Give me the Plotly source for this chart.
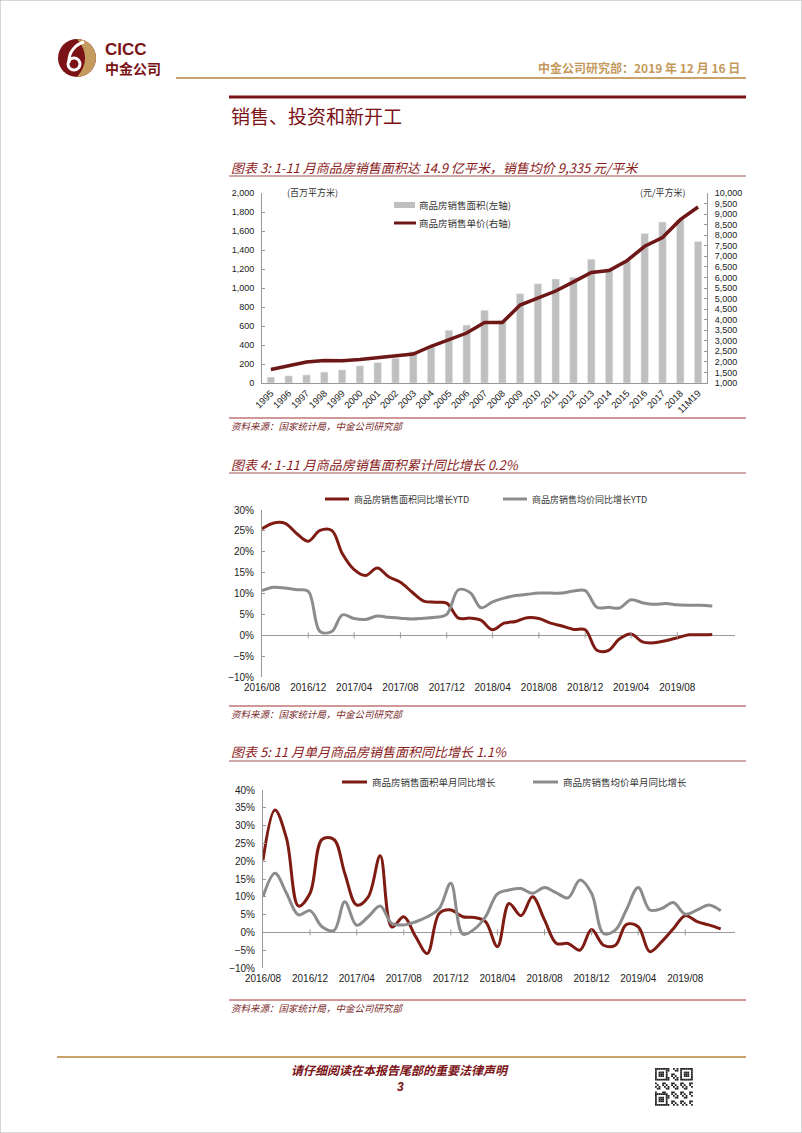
import pandas as pd
import plotly.graph_objects as go

W, H = 802, 1133

# ---- chart 3 data: annual sales area & average price
years = ["1995", "1996", "1997", "1998", "1999", "2000", "2001", "2002", "2003", "2004",
         "2005", "2006", "2007", "2008", "2009", "2010", "2011", "2012", "2013", "2014",
         "2015", "2016", "2017", "2018", "11M19"]
sales_area = [62, 75, 85, 115, 138, 180, 215, 260, 330, 375,
              555, 610, 765, 660, 940, 1045, 1095, 1112, 1303, 1206,
              1285, 1573, 1694, 1717, 1490]
avg_price = [1640, 1806, 1997, 2063, 2053, 2112, 2190, 2260, 2370, 2740,
             3050, 3367, 3864, 3860, 4690, 5032, 5357, 5791, 6237, 6324,
             6793, 7476, 7892, 8737, 9335]

# ---- chart 4 / 5 data: monthly, 2016/08 - 2019/11
months = pd.date_range("2016-08-01", "2019-11-01", freq="MS")
ytd_area_yoy = [25.5, 26.9, 26.8, 24.3, 22.5, 25.1, 25.1, 19.5, 15.7, 14.3,
                16.1, 14.0, 12.7, 10.3, 8.2, 7.9, 7.7, 4.1, 4.1, 3.6,
                1.3, 2.9, 3.3, 4.2, 4.0, 2.9, 2.2, 1.4, 1.3, -3.6,
                -3.6, -0.9, 0.3, -1.6, -1.8, -1.3, -0.6, 0.1, 0.1, 0.2]
ytd_price_yoy = [10.7, 11.5, 11.3, 10.9, 10.5, 0.9, 0.9, 4.9, 4.0, 3.8,
                 4.6, 4.3, 4.1, 3.9, 4.1, 4.3, 5.0, 10.9, 10.2, 6.6,
                 8.0, 8.9, 9.5, 9.8, 10.1, 10.1, 10.1, 10.6, 10.7, 6.7,
                 6.7, 6.5, 8.5, 7.8, 7.4, 7.6, 7.3, 7.2, 7.2, 7.0]
mon_area_yoy = [20.3, 34.4, 26.4, 7.4, 11.0, 26.1, 26.1, 16.6, 7.7, 10.0,
                21.5, 1.5, 4.4, -1.2, -5.9, 5.3, 6.3, 4.4, 4.2, 3.0,
                -4.0, 8.1, 4.7, 10.0, 3.5, -3.1, -3.1, -5.0, 0.8, -3.6,
                -3.6, 2.2, 1.6, -5.4, -2.6, 1.0, 4.7, 3.0, 2.1, 1.0]
mon_price_yoy = [10.0, 16.6, 11.0, 4.9, 6.1, 1.6, 0.5, 8.6, 2.0, 4.4,
                 7.4, 2.5, 2.1, 3.0, 4.4, 6.7, 13.8, -0.5, 1.0, 4.4,
                 10.8, 11.9, 12.3, 11.0, 12.6, 11.1, 9.7, 14.7, 11.0, -0.3,
                 0.7, 6.3, 12.6, 6.3, 6.7, 8.4, 5.1, 6.3, 7.7, 6.1]

RED = "#7E1C14"
RED_BAR = "#6E1717"
GRAY = "#8C8C8C"
BAR = "#BFBFBF"
GOLD = "#C9A36B"
TXT_RED = "#8B1C1C"
AX = "#9A9A9A"
NUM = "Liberation Sans, Arial, sans-serif"
CJK = "Noto Sans CJK SC, sans-serif"


def X(px):
    return px / W


def Y(py):
    return 1 - py / H


fig = go.Figure()

# chart 3
fig.add_trace(go.Bar(x=years, y=sales_area, marker_color=BAR, width=0.42,
                     xaxis="x", yaxis="y", showlegend=False))
fig.add_trace(go.Scatter(x=years, y=avg_price, mode="lines",
                         line=dict(color=RED_BAR, width=3.5),
                         xaxis="x", yaxis="y2", showlegend=False))
# chart 4
fig.add_trace(go.Scatter(x=months, y=ytd_area_yoy, mode="lines",
                         line=dict(color=RED, width=3, shape="spline"),
                         xaxis="x2", yaxis="y3", showlegend=False))
fig.add_trace(go.Scatter(x=months, y=ytd_price_yoy, mode="lines",
                         line=dict(color=GRAY, width=3, shape="spline"),
                         xaxis="x2", yaxis="y3", showlegend=False))
# chart 5
fig.add_trace(go.Scatter(x=months, y=mon_area_yoy, mode="lines",
                         line=dict(color=RED, width=3, shape="spline"),
                         xaxis="x3", yaxis="y4", showlegend=False))
fig.add_trace(go.Scatter(x=months, y=mon_price_yoy, mode="lines",
                         line=dict(color=GRAY, width=3, shape="spline"),
                         xaxis="x3", yaxis="y4", showlegend=False))

tickf = dict(family=NUM, size=9, color="#222")
tickf10 = dict(family=NUM, size=10, color="#222")
yax = dict(showline=True, linecolor=AX, linewidth=1, ticks="inside", ticklen=3,
           tickcolor=AX, showgrid=False, zeroline=False, tickfont=tickf,
           ticklabelstandoff=5, automargin=False)
xdate = dict(type="date", tickformat="%Y/%m", tickfont=tickf10, showline=False,
             ticks="", showgrid=False, ticklabelstandoff=3, automargin=False)

fig.update_layout(
    width=W, height=H, margin=dict(l=0, r=0, t=0, b=0, autoexpand=False),
    paper_bgcolor="white", plot_bgcolor="white", showlegend=False,
    xaxis=dict(domain=[X(262), X(707)], anchor="y", type="category",
               tickangle=-45, tickfont=dict(family=NUM, size=9.5, color="#222"),
               showline=True, linecolor=AX, ticks="", showgrid=False,
               automargin=False),
    yaxis=dict(yax, domain=[Y(383), Y(193)], range=[0, 2000], dtick=200,
               tickformat=",", anchor="x"),
    yaxis2=dict(yax, overlaying="y", side="right", anchor="x",
                range=[1000, 10000], dtick=500, tickformat=","),
    xaxis2=dict(xdate, domain=[X(262), X(735)], anchor="y3",
                range=["2016-08-01", "2019-12-31"], tickvals=months[::4]),
    yaxis3=dict(yax, domain=[Y(677), Y(510)], range=[-10, 30], dtick=5,
                ticksuffix="%", anchor="x2", zeroline=True, zerolinecolor=AX,
                zerolinewidth=1, tickfont=tickf10),
    xaxis3=dict(xdate, domain=[X(263), X(735)], anchor="y4",
                range=["2016-08-01", "2019-12-08"], tickvals=months[::4]),
    yaxis4=dict(yax, domain=[Y(968), Y(790)], range=[-10, 40], dtick=5,
                ticksuffix="%", anchor="x3", zeroline=True, zerolinecolor=AX,
                zerolinewidth=1, tickfont=tickf10),
)

shapes = []
ann = []


def hline(x0, x1, y, color, width):
    shapes.append(dict(type="line", xref="paper", yref="paper", x0=X(x0), x1=X(x1),
                       y0=Y(y), y1=Y(y), line=dict(color=color, width=width)))


def text(x, y, s, size, color, family=CJK, anchor="left", italic=False, bold=False):
    ann.append(dict(xref="paper", yref="paper", x=X(x), y=Y(y), text=s, showarrow=False,
                    xanchor=anchor, yanchor="middle",
                    font=dict(family=family, size=size, color=color,
                              style="italic" if italic else "normal",
                              weight="bold" if bold else "normal")))


# page border
shapes.append(dict(type="rect", xref="paper", yref="paper", x0=0, x1=1, y0=0, y1=1,
                   line=dict(color="#B0B0B0", width=1)))

# logo
cx, cy, r = 77, 58, 19
shapes.append(dict(type="circle", xref="paper", yref="paper", x0=X(cx - r), x1=X(cx + r),
                   y0=Y(cy + r), y1=Y(cy - r), fillcolor="#7A1216", line_width=0))
k = 0.5523
pts = [(cx, cy - r), (cx + k * r, cy - r), (cx + r, cy - k * r), (cx + r, cy),
       (cx + r, cy + k * r), (cx + k * r, cy + r), (cx, cy + r)]
p = [(X(a), Y(b)) for a, b in pts]
ctrl = (X(cx + 0.85 * r), Y(cy))
path = (f"M {p[0][0]},{p[0][1]} C {p[1][0]},{p[1][1]} {p[2][0]},{p[2][1]} {p[3][0]},{p[3][1]} "
        f"C {p[4][0]},{p[4][1]} {p[5][0]},{p[5][1]} {p[6][0]},{p[6][1]} "
        f"Q {ctrl[0]},{ctrl[1]} {p[0][0]},{p[0][1]} Z")
shapes.append(dict(type="path", xref="paper", yref="paper", path=path,
                   fillcolor="#C59A5E", line_width=0))
shapes.append(dict(type="circle", xref="paper", yref="paper", x0=X(68), x1=X(80),
                   y0=Y(70), y1=Y(58), fillcolor="rgba(0,0,0,0)",
                   line=dict(color="white", width=3)))
sw = [(69, 63), (68, 52), (76, 44), (84, 42)]
sp = [(X(a), Y(b)) for a, b in sw]
shapes.append(dict(type="path", xref="paper", yref="paper",
                   path=f"M {sp[0][0]},{sp[0][1]} C {sp[1][0]},{sp[1][1]} {sp[2][0]},{sp[2][1]} {sp[3][0]},{sp[3][1]}",
                   line=dict(color="white", width=3)))
text(103, 49, "CICC", 17, "#7A1216", family=NUM, bold=True)
text(103, 68, "中金公司", 14, "#7A1216", bold=True)

# header
text(742, 68, "中金公司研究部：2019 年 12 月 16 日", 12, "#C49A5C", anchor="right", bold=True)
hline(176, 746, 78, GOLD, 2)
hline(229, 746, 97, "#7A1216", 3)
text(229, 115, "销售、投资和新开工", 19, "#7A1216")

# chart 3 frame
text(229, 167, "图表 3: 1-11 月商品房销售面积达 14.9 亿平米，销售均价 9,335 元/平米", 13, TXT_RED, italic=True)
hline(229, 746, 176, "#A05050", 1)
text(285, 193, "(百万平方米)", 9, "#333")
text(688, 193, "(元/平方米)", 9, "#333", anchor="right")
shapes.append(dict(type="rect", xref="paper", yref="paper", x0=X(394), x1=X(415),
                   y0=Y(208), y1=Y(202), fillcolor=BAR, line_width=0))
text(417, 205, "商品房销售面积(左轴)", 9.5, "#333")
hline(394, 416, 223, RED_BAR, 3)
text(417, 223, "商品房销售单价(右轴)", 9.5, "#333")
hline(229, 746, 418, "#A03030", 1)
text(229, 426, "资料来源：国家统计局，中金公司研究部", 9.5, "#7A2A2A", italic=True)

# chart 4 frame
text(229, 464, "图表 4: 1-11 月商品房销售面积累计同比增长 0.2%", 13, TXT_RED, italic=True)
hline(229, 746, 473, "#A05050", 1)
hline(325, 349, 499, RED, 3)
text(352, 499, "商品房销售面积同比增长YTD", 9, "#333")
hline(503, 527, 499, GRAY, 3)
text(530, 499, "商品房销售均价同比增长YTD", 9, "#333")
hline(229, 746, 706, "#A03030", 1)
text(229, 714, "资料来源：国家统计局，中金公司研究部", 9.5, "#7A2A2A", italic=True)

# chart 5 frame
text(229, 751, "图表 5: 11 月单月商品房销售面积同比增长 1.1%", 13, TXT_RED, italic=True)
hline(229, 746, 761, "#A05050", 1)
hline(342, 367, 782, RED, 3)
text(370, 782, "商品房销售面积单月同比增长", 9.5, "#333")
hline(533, 558, 782, GRAY, 3)
text(561, 782, "商品房销售均价单月同比增长", 9.5, "#333")
hline(229, 746, 1000, "#A03030", 1)
text(229, 1008, "资料来源：国家统计局，中金公司研究部", 9.5, "#7A2A2A", italic=True)

# x tick marks on the zero lines
for xa, ya in (("x2", "y3"), ("x3", "y4")):
    for m in months[4::4]:
        shapes.append(dict(type="line", xref=xa, yref=ya, x0=m, x1=m, ysizemode="pixel",
                           yanchor=0, y0=-3, y1=3, line=dict(color=AX, width=1)))

# footer
hline(57, 746, 1057, GOLD, 2)
text(400, 1069, "请仔细阅读在本报告尾部的重要法律声明", 12, "#7A1216", anchor="center",
     italic=True, bold=True)
text(400, 1087, "3", 12, "#7A1216", family=NUM, anchor="center", italic=True, bold=True)

# QR-like block
qx, qy, n, cs = 655, 1068, 21, 1.8
for i in range(n):
    for j in range(n):
        fin = None
        for fi, fj in ((0, 0), (0, n - 7), (n - 7, 0)):
            if fi <= i < fi + 7 and fj <= j < fj + 7:
                di, dj = i - fi, j - fj
                fin = (di in (0, 6) or dj in (0, 6)) or (2 <= di <= 4 and 2 <= dj <= 4)
        dark = fin if fin is not None else ((i * 7 + j * 13 + i * j) % 5 < 2)
        if dark:
            shapes.append(dict(type="rect", xref="paper", yref="paper",
                               x0=X(qx + j * cs), x1=X(qx + (j + 1) * cs),
                               y0=Y(qy + (i + 1) * cs), y1=Y(qy + i * cs),
                               fillcolor="#222", line_width=0))

fig.update_layout(shapes=shapes, annotations=ann)
fig.write_html("out.html", config={"staticPlot": True},
               post_script="document.body.style.margin='0';"
                           "document.documentElement.style.overflow='hidden';")
